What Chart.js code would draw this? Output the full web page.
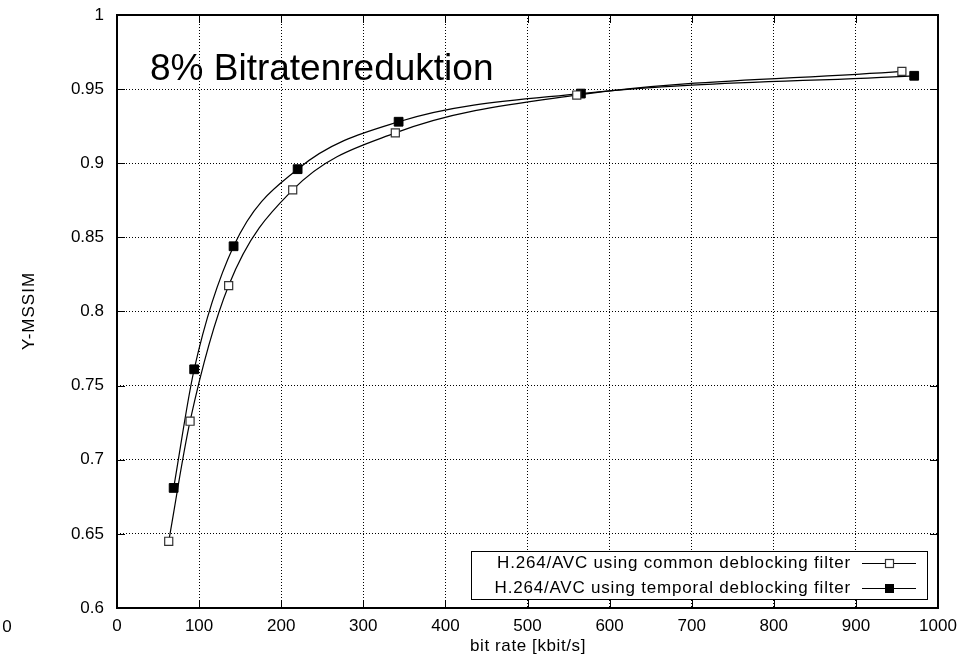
<!DOCTYPE html>
<html>
<head>
<meta charset="utf-8">
<script src="https://cdn.jsdelivr.net/npm/chart.js@4/dist/chart.umd.min.js"></script>
<style>
  html, body { margin: 0; background: #fff; }
  #wrap { width: 967px; height: 665px; }
</style>
</head>
<body>
<div id="wrap"><canvas id="c" width="967" height="665"></canvas></div>
<script>
// values
const bitrateCommon = [63, 89, 136, 214, 339, 560, 956];
const mssimCommon = [0.645, 0.726, 0.8175, 0.882, 0.9205, 0.946, 0.962];
const bitrateTemporal = [69, 94, 142, 220, 343, 565, 971];
const mssimTemporal = [0.681, 0.761, 0.844, 0.896, 0.928, 0.947, 0.959];

const xTicks = [0, 100, 200, 300, 400, 500, 600, 700, 800, 900, 1000];
const yTicks = [0.6, 0.65, 0.7, 0.75, 0.8, 0.85, 0.9, 0.95, 1];
const yTickLabels = ["0.6", "0.65", "0.7", "0.75", "0.8", "0.85", "0.9", "0.95", "1"];

const seriesNames = [
  "H.264/AVC using common deblocking filter",
  "H.264/AVC using temporal deblocking filter",
];
const annotation = "8% Bitratenreduktion";
const xTitle = "bit rate [kbit/s]";
const yTitle = "Y-MSSIM";

const FONT = '"Liberation Sans", Arial, Helvetica, sans-serif';

function toPoints(xs, ys) {
  return xs.map((x, i) => ({ x, y: ys[i] }));
}

// frame, inward tick marks, legend box and free texts
const decor = {
  id: "decor",
  afterDraw(chart) {
    const { ctx, chartArea: a, scales: { x, y } } = chart;
    ctx.save();
    ctx.strokeStyle = "#000";
    ctx.lineWidth = 1;
    const T = 8;
    ctx.beginPath();
    xTicks.forEach(v => {
      const px = Math.round(x.getPixelForValue(v)) + 0.5;
      ctx.moveTo(px, a.bottom); ctx.lineTo(px, a.bottom - T);
      ctx.moveTo(px, a.top); ctx.lineTo(px, a.top + T);
    });
    yTicks.forEach(v => {
      const py = Math.round(y.getPixelForValue(v)) + 0.5;
      ctx.moveTo(a.left, py); ctx.lineTo(a.left + T, py);
      ctx.moveTo(a.right, py); ctx.lineTo(a.right - T, py);
    });
    ctx.stroke();

    ctx.lineWidth = 2;
    ctx.strokeRect(a.left, a.top, a.right - a.left, a.bottom - a.top);

    // legend
    const lx = 471, ly = 551, lw = 456, lh = 48;
    ctx.fillStyle = "#fff";
    ctx.fillRect(lx, ly, lw, lh);
    ctx.lineWidth = 1;
    ctx.strokeRect(lx + 0.5, ly + 0.5, lw, lh);
    ctx.font = "17px " + FONT;
    ctx.letterSpacing = "0.8px";
    ctx.textAlign = "right";
    ctx.textBaseline = "middle";
    const rows = [563, 588];
    rows.forEach((ry, i) => {
      ctx.fillStyle = "#000";
      ctx.fillText(seriesNames[i], 851, ry);
      ctx.lineWidth = 1.2;
      ctx.beginPath();
      ctx.moveTo(862, ry + 0.5); ctx.lineTo(916, ry + 0.5);
      ctx.stroke();
      if (i === 0) {
        ctx.fillStyle = "#fff";
        ctx.fillRect(885, ry - 4, 8, 8);
        ctx.strokeStyle = "#333";
        ctx.strokeRect(885.5, ry - 3.5, 8, 8);
        ctx.strokeStyle = "#000";
      } else {
        ctx.fillStyle = "#000";
        ctx.fillRect(885, ry - 4, 9, 9);
      }
    });

    // annotation inside the plot
    ctx.fillStyle = "#000";
    ctx.textAlign = "left";
    ctx.textBaseline = "alphabetic";
    ctx.letterSpacing = "0px";
    ctx.font = "37px " + FONT;
    ctx.fillText(annotation, 150, 80);

    // axis titles
    ctx.font = "17px " + FONT;
    ctx.letterSpacing = "0.6px";
    ctx.textAlign = "center";
    ctx.textBaseline = "middle";
    ctx.fillText(xTitle, 528, 646);
    ctx.save();
    ctx.letterSpacing = "1px";
    ctx.translate(29, 311);
    ctx.rotate(-Math.PI / 2);
    ctx.fillText(yTitle, 0, 0);
    ctx.restore();

    // stray "0" at the far left of the x tick row
    ctx.letterSpacing = "0px";
    ctx.fillText("0", 7, 627);
    ctx.restore();
  }
};

new Chart(document.getElementById("c"), {
  type: "line",
  data: {
    datasets: [
      {
        label: seriesNames[0],
        data: toPoints(bitrateCommon, mssimCommon),
        borderColor: "#000",
        borderWidth: 1.2,
        cubicInterpolationMode: "monotone",
        pointStyle: "rect",
        pointRadius: 5.7,
        pointBackgroundColor: "#fff",
        pointBorderColor: "#333",
        pointBorderWidth: 1.2,
      },
      {
        label: seriesNames[1],
        data: toPoints(bitrateTemporal, mssimTemporal),
        borderColor: "#000",
        borderWidth: 1.2,
        cubicInterpolationMode: "monotone",
        pointStyle: "rect",
        pointRadius: 6.2,
        pointBackgroundColor: "#000",
        pointBorderColor: "#000",
        pointBorderWidth: 1,
      },
    ],
  },
  options: {
    responsive: false,
    animation: false,
    devicePixelRatio: 1,
    layout: { padding: { top: 15, right: 29, left: 0, bottom: 0 } },
    plugins: { legend: { display: false }, tooltip: { enabled: false } },
    scales: {
      x: {
        type: "linear",
        min: 0,
        max: 1000,
        afterBuildTicks: s => { s.ticks = xTicks.map(v => ({ value: v })); },
        afterFit: s => { s.height = 57; s.paddingLeft = 0; s.paddingRight = 0; },
        grid: { color: "#000", lineWidth: 1, drawTicks: false },
        border: { display: false, dash: [1, 2] },
        ticks: { color: "#000", padding: 8, font: { size: 17, family: FONT }, maxRotation: 0, callback: v => String(v) },
      },
      y: {
        type: "linear",
        min: 0.6,
        max: 1,
        afterBuildTicks: s => { s.ticks = yTicks.map(v => ({ value: v })); },
        afterFit: s => { s.width = 117; s.paddingTop = 0; s.paddingBottom = 0; },
        grid: { color: "#000", lineWidth: 1, drawTicks: false },
        border: { display: false, dash: [1, 2] },
        ticks: {
          color: "#000", padding: 13, font: { size: 17, family: FONT },
          callback: (v, i) => yTickLabels[i],
        },
      },
    },
  },
  plugins: [decor],
});
</script>
</body>
</html>
